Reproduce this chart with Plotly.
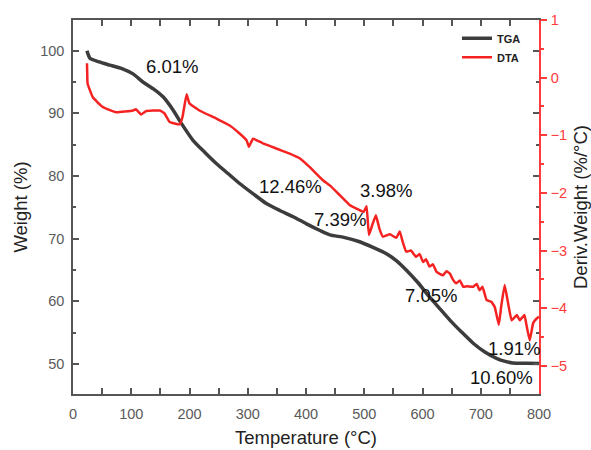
import plotly.graph_objects as go

# TGA data (Temperature °C, Weight %)
tga_t = [24, 26, 29, 45, 63, 85, 103, 120, 138, 155, 172, 186, 206, 226, 246, 266, 286, 310, 332, 355, 378, 400, 424, 441, 465, 492, 515, 538, 555, 572, 592, 612, 630, 647, 667, 687, 707, 727, 742, 755, 780, 800]
tga_w = [100.0, 99.4, 98.8, 98.2, 97.7, 97.1, 96.3, 95.0, 93.9, 92.6, 90.5, 88.4, 85.7, 83.8, 82.0, 80.4, 78.8, 77.1, 75.6, 74.5, 73.5, 72.4, 71.3, 70.6, 70.2, 69.5, 68.6, 67.6, 66.5, 65.0, 63.0, 60.7, 58.8, 57.0, 55.1, 53.3, 51.9, 50.9, 50.4, 50.15, 50.1, 50.05]

# DTA data (Temperature °C, Deriv. weight %/°C)
dta_t = [24, 24.5, 25, 34, 51, 74, 103, 108, 117, 126, 149, 157, 166, 183, 188, 195, 200, 217, 246, 269, 286, 298, 302, 309, 326, 349, 372, 389, 406, 429, 441, 458, 475, 492, 499, 504, 508, 514, 520, 526, 532, 544, 555, 561, 566, 572, 580, 589, 595, 601, 606, 612, 618, 624, 635, 641, 647, 652, 658, 664, 670, 676, 687, 693, 698, 703, 710, 718, 724, 731, 735, 741, 747, 753, 762, 767, 775, 779, 784, 790, 796, 800]
dta_d = [0.25, 0.05, -0.10, -0.34, -0.51, -0.60, -0.57, -0.55, -0.64, -0.58, -0.57, -0.62, -0.77, -0.81, -0.68, -0.29, -0.45, -0.57, -0.71, -0.83, -0.97, -1.09, -1.20, -1.06, -1.14, -1.23, -1.32, -1.40, -1.55, -1.78, -1.87, -2.04, -2.21, -2.30, -2.33, -2.23, -2.73, -2.55, -2.39, -2.62, -2.76, -2.72, -2.78, -2.67, -2.85, -3.02, -3.00, -3.11, -3.06, -3.20, -3.15, -3.28, -3.24, -3.37, -3.43, -3.36, -3.40, -3.50, -3.57, -3.52, -3.63, -3.62, -3.63, -3.58, -3.69, -3.63, -3.86, -3.89, -3.98, -4.29, -3.98, -3.60, -3.92, -4.21, -4.12, -4.21, -4.12, -4.32, -4.56, -4.26, -4.18, -4.15]

# Annotations (text, temperature, weight)
ann_text = ["6.01%", "12.46%", "3.98%", "7.39%", "7.05%", "1.91%", "10.60%"]
ann_t = [170, 373, 538, 458, 615, 757, 735]
ann_w = [97.4, 78.4, 77.7, 73.0, 61.0, 52.5, 47.9]

FONT = "Arial, Liberation Sans, sans-serif"
GRAY = "#555555"
TICKGRAY = "#5a5a5a"
RED = "#ff3b3b"

fig = go.Figure()
fig.add_trace(go.Scatter(x=tga_t, y=tga_w, mode="lines", name="TGA",
                         line=dict(color="#3c3c3c", width=3.5, shape="spline", smoothing=0.6)))
fig.add_trace(go.Scatter(x=dta_t, y=dta_d, mode="lines", name="DTA", yaxis="y2",
                         line=dict(color="#f52222", width=2.5, shape="spline", smoothing=0.3)))

for txt, t, w in zip(ann_text, ann_t, ann_w):
    fig.add_annotation(x=t, y=w, text=txt, showarrow=False, xref="x", yref="y",
                       font=dict(family=FONT, size=18.5, color="#111111"))

fig.update_layout(
    width=591, height=450,
    margin=dict(l=73, r=52, t=20, b=56),
    paper_bgcolor="white", plot_bgcolor="white",
    font=dict(family=FONT),
    showlegend=True,
    legend=dict(x=0.824, y=0.99, xanchor="left", yanchor="top",
                bgcolor="rgba(0,0,0,0)", font=dict(size=11, color="#222222", family="Arial, Liberation Sans", weight="bold"),
                itemwidth=30, tracegroupgap=0),
    xaxis=dict(range=[0, 800], dtick=100, tick0=0, automargin=False,
               showline=True, linecolor=GRAY, linewidth=1.5, mirror="allticks",
               ticks="inside", ticklen=6, tickwidth=1.5, tickcolor=GRAY,
               minor=dict(ticks="inside", ticklen=3, dtick=50, tickcolor=GRAY, tickwidth=1.5),
               showgrid=False, zeroline=False, ticklabelstandoff=6,
               tickfont=dict(size=14.5, color=TICKGRAY, family=FONT),
               title=dict(text="Temperature (°C)", font=dict(size=18.5, color="#222222", family=FONT), standoff=10)),
    yaxis=dict(range=[45.2, 104.9], dtick=10, tick0=50, automargin=False,
               showline=True, linecolor=GRAY, linewidth=1.5, mirror="allticks",
               ticks="inside", ticklen=6, tickwidth=1.5, tickcolor=GRAY,
               minor=dict(ticks="inside", ticklen=3, dtick=5, tickcolor=GRAY, tickwidth=1.5),
               showgrid=False, zeroline=False, ticklabelstandoff=4,
               tickfont=dict(size=14.5, color=TICKGRAY, family=FONT),
               title=dict(text="Weight (%)", font=dict(size=18.5, color="#222222", family=FONT), standoff=8)),
    yaxis2=dict(range=[-5.49, 1.0], dtick=1, tick0=0, overlaying="y", side="right", automargin=False,
                showline=True, linecolor=RED, linewidth=1.5,
                ticks="outside", ticklen=6, tickwidth=1.5, tickcolor=RED,
                minor=dict(ticks="outside", ticklen=3, dtick=0.5, tickcolor=RED, tickwidth=1.5),
                showgrid=False, zeroline=False, ticklabelstandoff=1,
                tickfont=dict(size=14.5, color=RED, family=FONT),
                title=dict(text="Deriv.Weight (%/°C)", font=dict(size=18.5, color="#222222", family=FONT), standoff=8)),
)

fig.write_html("out.html")
